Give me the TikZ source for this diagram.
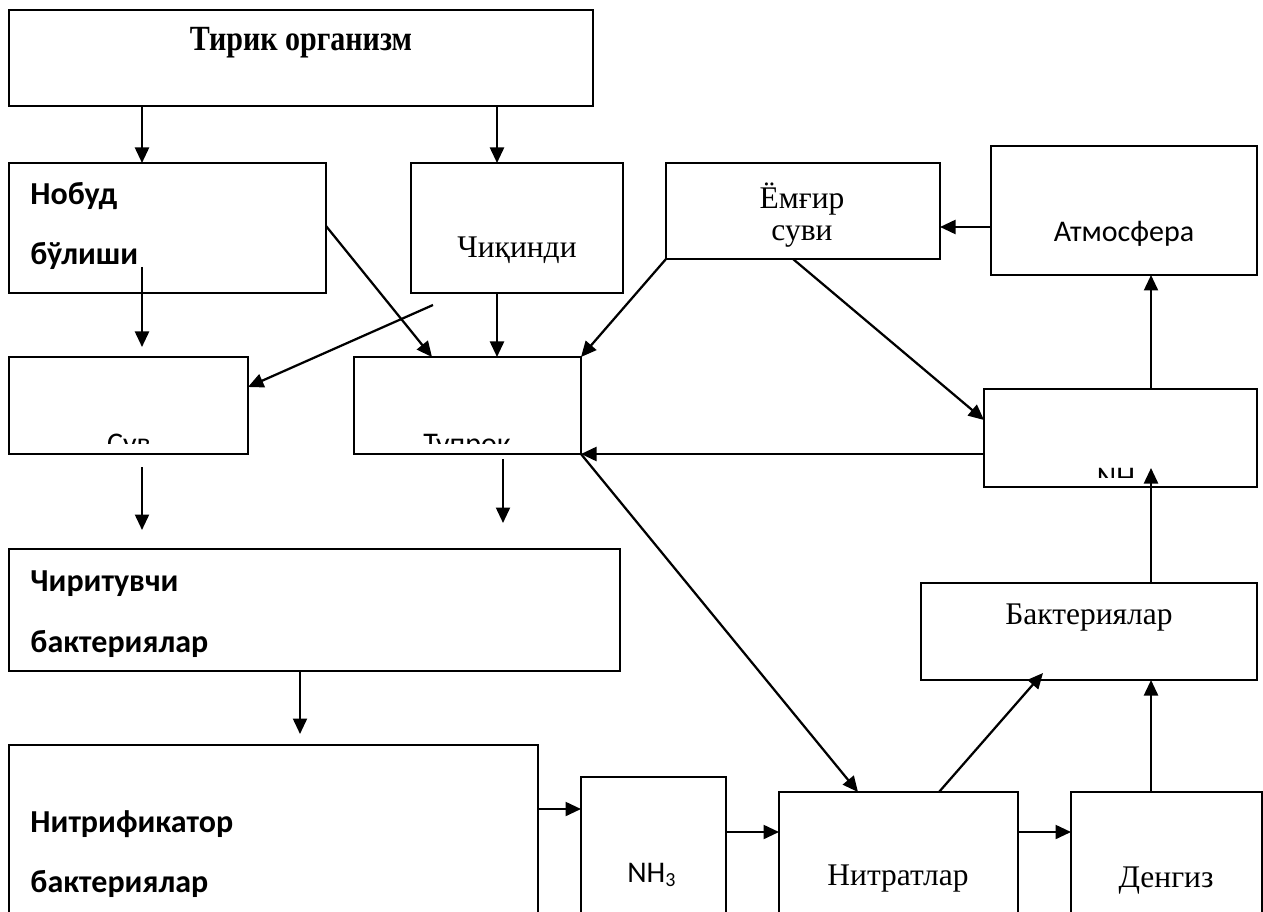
\documentclass[tikz,border=0pt]{standalone}
\usepackage{fontspec}
\setmainfont{Liberation Serif}
\newfontfamily\carl{Carlito}
\usetikzlibrary{arrows.meta,calc}
\newcommand{\mkbox}[5]{\node[box, minimum width={(#4-#2)*0.4pt}, minimum height={(#5-#3)*0.4pt}] (#1) at (#2,#3) {};}
\begin{document}
\begin{tikzpicture}[x=0.4pt,y=-0.4pt,
  box/.style={draw, line width=0.9pt, inner sep=0pt, outer sep=0pt, anchor=north west},
  arr/.style={line width=0.9pt, -{Triangle[length=6.2pt,width=5.6pt]}},
  serif/.style={font=\fontsize{12.6}{14}\selectfont, inner sep=0pt},
  serifb/.style={font=\fontsize{12}{14}\selectfont\bfseries, inner sep=0pt},
  sans/.style={font=\carl\fontsize{12}{14}\selectfont, inner sep=0pt},
  sansb/.style={font=\carl\fontsize{12.8}{15}\selectfont\bfseries, inner sep=0pt}]
\useasboundingbox (0,0) rectangle (1263,911);
\clip (0,0) rectangle (1263,911);
\fill[white] (0,0) rectangle (1263,911);
% boxes
\mkbox{tirik}{9}{10}{593}{106}
\mkbox{nobud}{9}{163}{326}{293}
\mkbox{chiq}{411}{163}{623}{293}
\mkbox{emg}{666}{163}{940}{259}
\mkbox{atm}{991}{146}{1257}{275}
\mkbox{suv}{9}{357}{248}{454}
\mkbox{tupr}{354}{357}{581}{454}
\mkbox{nh}{984}{389}{1257}{487}
\mkbox{chir}{9}{549}{620}{671}
\mkbox{bak}{921}{583}{1257}{680}
\mkbox{nitrif}{9}{745}{538}{930}
\mkbox{nhthree}{581}{777}{726}{930}
\mkbox{nitrat}{779}{792}{1018}{930}
\mkbox{deng}{1071}{792}{1262}{930}
% texts
\node[serifb, anchor=base] (ttirik) at (301,51) {\scalebox{1}[1.18]{Тирик организм}};
\node[sansb, anchor=base west] (tnob1) at (30,205) {Нобуд};
\node[sansb, anchor=base west] (tnob2) at (30,265) {бўлиши};
\node[serif, anchor=base] (tchiq) at (517,258) {Чиқинди};
\node[serif, anchor=base] (temg1) at (802,209) {Ёмғир};
\node[serif, anchor=base] (temg2) at (802,241) {суви};
\node[sans, anchor=base] (tatm) at (1124,242) {Атмосфера};
\begin{scope}
\clip (9,357) rectangle (248,443);
\node[sans, anchor=base] (tsuv) at (129,453) {Сув};
\end{scope}
\begin{scope}
\clip (354,357) rectangle (581,443);
\node[sans, anchor=base] (ttupr) at (467,453) {Тупрок};
\end{scope}
\begin{scope}
\clip (984,389) rectangle (1257,477);
\node[sans, anchor=base] (tnh) at (1116,487) {NH};
\end{scope}
\node[sansb, anchor=base west] (tchir1) at (30,591) {Чиритувчи};
\node[sansb, anchor=base west] (tchir2) at (30,652) {бактериялар};
\node[serif, anchor=base] (tbak) at (1089,624) {Бактериялар};
\node[sansb, anchor=base west] (tnit1) at (30,832) {Нитрификатор};
\node[sansb, anchor=base west] (tnit2) at (30,892) {бактериялар};
\node[sans, anchor=base] (tnh3) at (652,882) {NH\textsubscript{3}};
\node[serif, anchor=base] (tnitrat) at (898,885) {Нитратлар};
\node[serif, anchor=base] (tdeng) at (1166,887) {Денгиз};
% helper coordinates
\coordinate (x142) at (142,0);
\coordinate (x497) at (497,0);
\coordinate (x432) at (432,0);
\coordinate (x793) at (793,0);
\coordinate (x1151) at (1151,0);
\coordinate (x300) at (300,0);
\coordinate (x858) at (858,0);
\coordinate (x939) at (939,0);
\coordinate (y226) at (0,226);
\coordinate (y227) at (0,227);
\coordinate (y387) at (0,387);
\coordinate (y420) at (0,420);
\coordinate (y809) at (0,809);
\coordinate (y832) at (0,832);
\coordinate (cA) at (142,267);
\coordinate (cH) at (142,347);
\coordinate (cB) at (433,305);
\coordinate (cC) at (142,467);
\coordinate (cC2) at (142,530);
\coordinate (cD) at (503,459);
\coordinate (cD2) at (503,523);
\coordinate (cE) at (1151,468);
\coordinate (cF) at (1043,673);
\coordinate (cG) at (300,734);
% connectors
\draw[arr] (tirik.south -| x142) -- (nobud.north -| x142);
\draw[arr] (tirik.south -| x497) -- (chiq.north -| x497);
\draw[arr] (cA) -- (cH);
\draw[arr] (nobud.east |- y226) -- (tupr.north -| x432);
\draw[arr] (chiq.south -| x497) -- (tupr.north -| x497);
\draw[arr] (cB) -- (suv.east |- y387);
\draw[arr] (emg.south west) -- (tupr.north east);
\draw[arr] (emg.south -| x793) -- (nh.west |- y420);
\draw[arr] (atm.west |- y227) -- (emg.east |- y227);
\draw[arr] (nh.north -| x1151) -- (atm.south -| x1151);
\draw[arr] (bak.north -| x1151) -- (cE);
\draw[arr] (nh.west |- tupr.south east) -- (tupr.south east);
\draw[arr] (tupr.south east) -- (nitrat.north -| x858);
\draw[arr] (cC) -- (cC2);
\draw[arr] (cD) -- (cD2);
\draw[arr] (chir.south -| x300) -- (cG);
\draw[arr] (nitrif.east |- y809) -- (nhthree.west |- y809);
\draw[arr] (nhthree.east |- y832) -- (nitrat.west |- y832);
\draw[arr] (nitrat.east |- y832) -- (deng.west |- y832);
\draw[arr] (nitrat.north -| x939) -- (cF);
\draw[arr] (deng.north -| x1151) -- (bak.south -| x1151);
\end{tikzpicture}
\end{document}
